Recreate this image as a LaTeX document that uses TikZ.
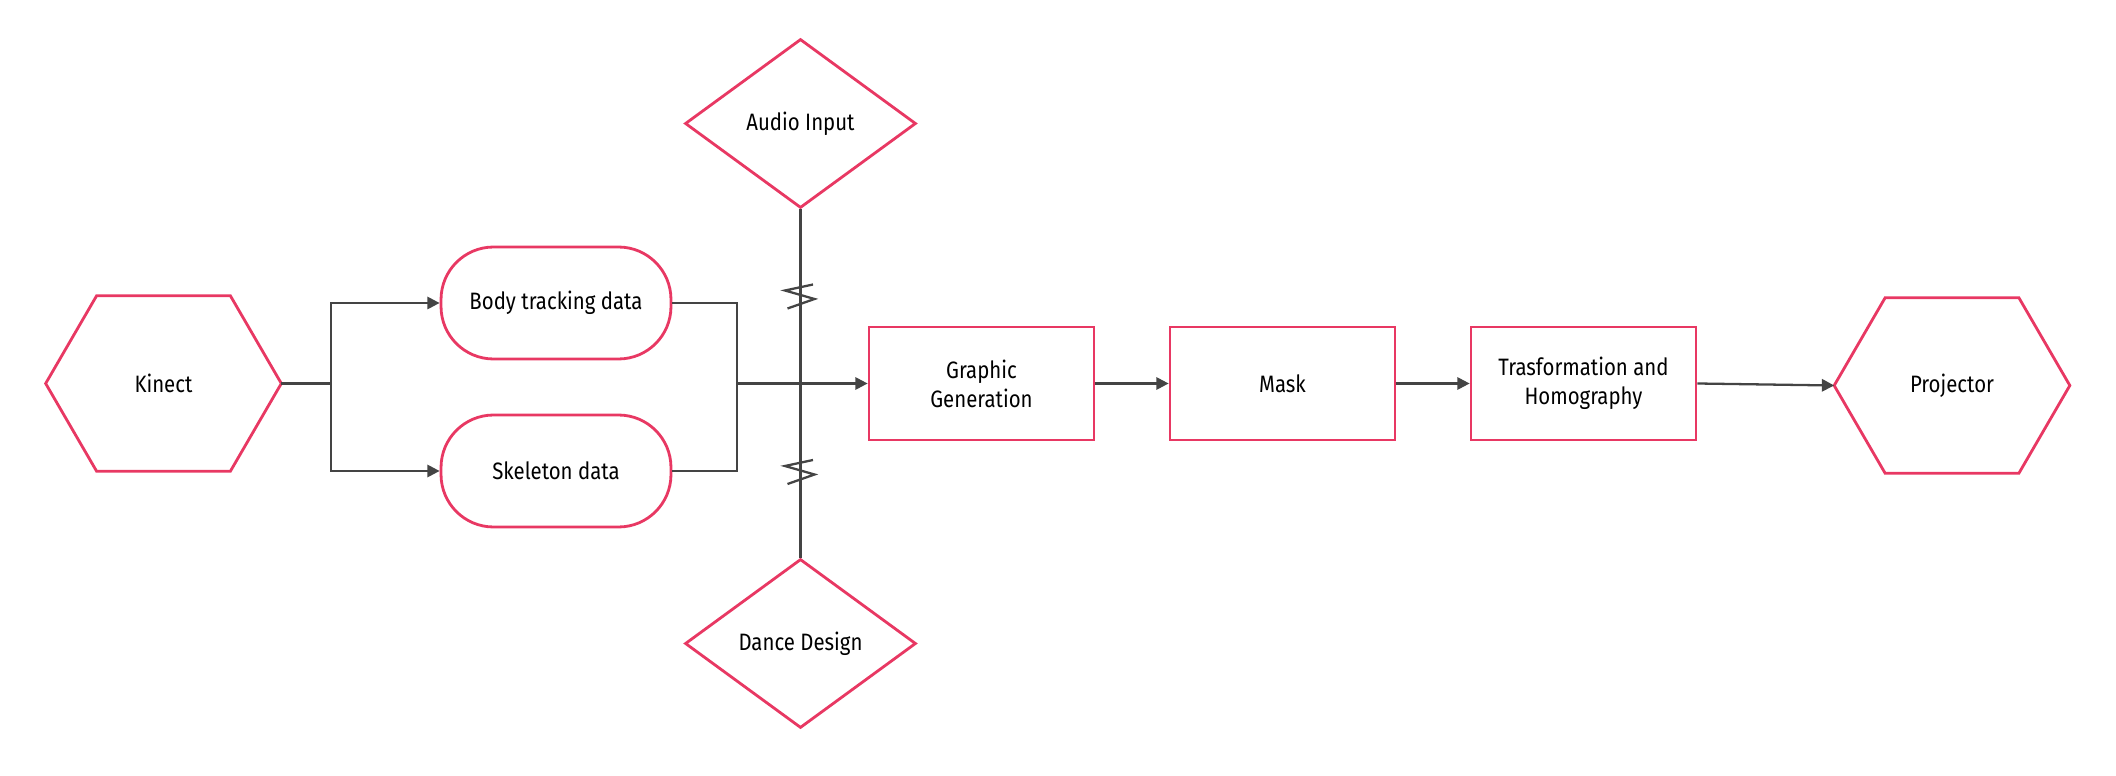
\documentclass[tikz,border=0pt]{standalone}
\usepackage{fontspec}
\setmainfont{Fira Sans}[FakeStretch=0.86]
\usepackage{tikz}
\usetikzlibrary{shapes.geometric}
\usetikzlibrary{arrows.meta,calc}
\definecolor{flowpink}{RGB}{232,56,99}
\definecolor{wiregray}{RGB}{68,68,68}

\begin{document}
\begin{tikzpicture}[x=0.02cm, y=-0.02cm,
  every node/.style={font=\fontsize{13.5}{16.5}\selectfont, text=black},
  procbox/.style={draw=flowpink, line width=1.6pt, minimum width=4.5cm, minimum height=2.26cm, align=center, inner sep=0pt},
  pillbox/.style={procbox, rounded corners=1.05cm, minimum width=4.6cm, minimum height=2.24cm},
  hexnode/.style={minimum width=4.7cm, minimum height=3.5cm, inner sep=0pt},
  diamnode/.style={diamond, draw=flowpink, line width=1.6pt, minimum width=4.62cm, minimum height=3.38cm, inner sep=0pt},
  wire/.style={draw=wiregray, line width=1.3pt},
  arrowwire/.style={wire, -{Triangle[length=7pt,width=7pt]}}]

\useasboundingbox (0,0) rectangle (2116,776);

% Sources
\node[hexnode] (kinect) at (163.5,383.5) {Kinect};
\node[pillbox] (body) at (556,303) {Body tracking data};
\node[pillbox] (skel) at (556,471) {Skeleton data};

% Side inputs
\node[diamnode] (audio) at (800.5,123.5) {Audio Input};
\node[diamnode] (dance) at (800.5,643.5) {Dance Design};

% Processing chain
\node[procbox] (graphic) at (981.5,383.5) {Graphic\\Generation};
\node[procbox] (mask) at (1282.5,383.5) {Mask};
\node[procbox] (trans) at (1583.5,383.5) {Trasformation and\\Homography};
\node[hexnode] (projector) at (1952,385.5) {Projector};

% Hexagon outlines
\foreach \hx in {kinect,projector} {
  \draw[flowpink, line width=1.6pt] (\hx.west) -- ($(\hx.north west)+(51,0)$) -- ($(\hx.north east)+(-51,0)$)
    -- (\hx.east) -- ($(\hx.south east)+(-51,0)$) -- ($(\hx.south west)+(51,0)$) -- cycle;
}

% Connectors
\coordinate (kfork) at (331,383.5);
\coordinate (merge) at (737,383.5);
\draw[wire] (kinect.east) -- (kfork);
\draw[arrowwire] (kfork) |- (body.west);
\draw[arrowwire] (kfork) |- (skel.west);
\draw[wire] (body.east) -| (merge);
\draw[wire] (skel.east) -| (merge);
\draw[arrowwire] (merge) -- (graphic.west);
\draw[arrowwire] (graphic.east) -- (mask.west);
\draw[arrowwire] (mask.east) -- (trans.west);
\draw[arrowwire] (trans.east) -- (projector.west);

% Vertical line with break marks
\draw[wire] (audio.south) -- (dance.north);
\foreach \zy in {296.5,472} {
  \draw[wire] (813,\zy-12) -- (785,\zy-6) -- (814.5,\zy+2.5) -- (787.5,\zy+12);
}

\end{tikzpicture}
\end{document}
